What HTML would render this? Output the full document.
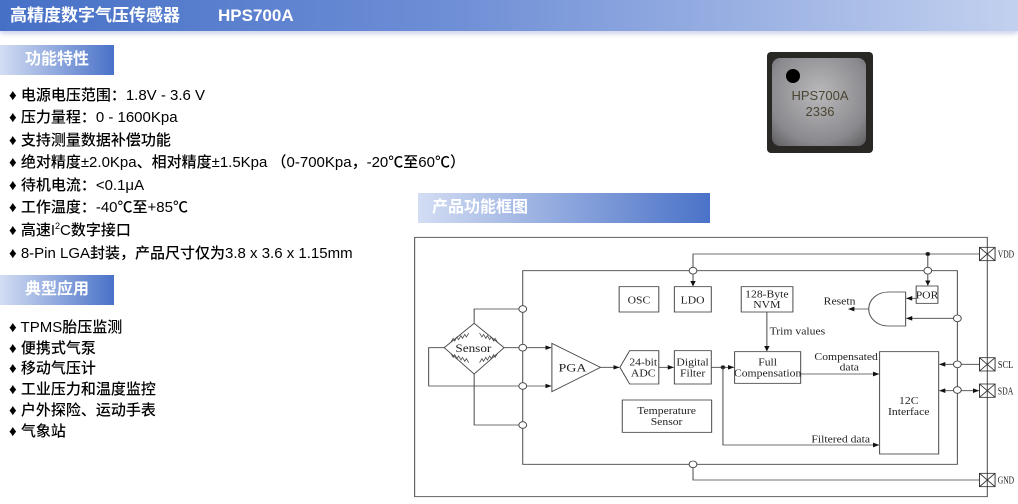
<!DOCTYPE html>
<html><head><meta charset="utf-8"><style>
body{margin:0;width:1018px;height:504px;background:#fff;position:relative;overflow:hidden;font-family:"Liberation Sans","Noto Sans CJK SC",sans-serif;}
.hdr{position:absolute;left:0;top:0;width:1018px;height:31px;background:linear-gradient(90deg,#4670c6 0%,#6f8fd6 45%,#c3d1ef 100%);box-shadow:0 3px 4px rgba(120,140,200,.35);}
.hdr span{position:absolute;top:0;line-height:31px;color:#fff;font-weight:bold;font-size:17px;}
.sec{position:absolute;height:30px;background:linear-gradient(90deg,#d3ddf3,#4a72c8);color:#fff;font-weight:bold;font-size:16px;line-height:30px;}
.li{position:absolute;left:9px;font-size:15px;color:#000;white-space:nowrap;line-height:20px;font-weight:500;}
sup{font-size:9px;position:relative;top:-6px;vertical-align:baseline;}
</style></head><body>
<div class="hdr"><span style="left:10px">高精度数字气压传感器</span><span style="left:218px">HPS700A</span></div>
<div class="sec" style="left:0;top:45px;width:114px;"><span style="margin-left:25px">功能特性</span></div>
<div class="li" style="top:86px">♦ 电源电压范围：1.8V - 3.6 V</div>
<div class="li" style="top:108px">♦ 压力量程：0 - 1600Kpa</div>
<div class="li" style="top:131px">♦ 支持测量数据补偿功能</div>
<div class="li" style="top:153px">♦ 绝对精度±2.0Kpa、相对精度±1.5Kpa （0-700Kpa，-20℃至60℃）</div>
<div class="li" style="top:176px">♦ 待机电流：&lt;0.1μA</div>
<div class="li" style="top:198px">♦ 工作温度：-40℃至+85℃</div>
<div class="li" style="top:221px">♦ 高速I<sup>2</sup>C数字接口</div>
<div class="li" style="top:244px">♦ 8-Pin LGA封装，产品尺寸仅为3.8 x 3.6 x 1.15mm</div>
<div class="sec" style="left:0;top:275px;width:114px;"><span style="margin-left:25px">典型应用</span></div>
<div class="li" style="top:318px">♦ TPMS胎压监测</div>
<div class="li" style="top:339px">♦ 便携式气泵</div>
<div class="li" style="top:359px">♦ 移动气压计</div>
<div class="li" style="top:380px">♦ 工业压力和温度监控</div>
<div class="li" style="top:401px">♦ 户外探险、运动手表</div>
<div class="li" style="top:422px">♦ 气象站</div>
<div class="sec" style="left:418px;top:193px;width:292px;"><span style="margin-left:14px">产品功能框图</span></div>
<div style="position:absolute;left:767px;top:52px;width:106px;height:101px;background:#2a2824;border-radius:4px;"></div>
<div style="position:absolute;left:772px;top:58px;width:94px;height:88px;background:radial-gradient(circle at 50% 40%,#b9b9bc,#8a8a8e 70%,#5b5b5e);border-radius:8px;"></div>
<div style="position:absolute;left:786px;top:69px;width:14px;height:14px;background:#000;border-radius:50%;"></div>
<div style="position:absolute;left:790px;top:88px;font-size:13px;color:#4a4530;line-height:16px;text-align:center;width:60px;">HPS700A<br>2336</div>
<svg style="position:absolute;left:410px;top:230px" width="608" height="274" viewBox="0 0 1564 822" preserveAspectRatio="none" font-family="'Liberation Serif',serif" font-size="30" fill="none" stroke="#444" stroke-width="2.5">
<defs><marker id="b" markerWidth="16" markerHeight="14" refX="15" refY="7" orient="auto-start-reverse" markerUnits="userSpaceOnUse"><path d="M0,0 L16,7 L0,14z" fill="#111" stroke="none"/></marker></defs>
<rect x="12" y="22" width="1473" height="778"/>
<path d="M290,122 H1408 V703 H290 Z"/>
<path d="M728,122 V72 H1465"/><path d="M728,122 V168" marker-end="url(#b)"/>
<path d="M1332,72 V166" marker-end="url(#b)"/>
<circle cx="1332" cy="72" r="5" fill="#111"/>
<path d="M728,703 V750 H1465"/>
<path d="M1465,403 H1362" marker-end="url(#b)"/>
<path d="M1362,482 H1463" marker-start="url(#b)" marker-end="url(#b)"/>
<g stroke="#333"><rect x="1465" y="52" width="40" height="40"/><path d="M1465,52 L1505,92 M1505,52 L1465,92"/>
<rect x="1465" y="383" width="40" height="40"/><path d="M1465,383 L1505,423 M1505,383 L1465,423"/>
<rect x="1465" y="462" width="40" height="40"/><path d="M1465,462 L1505,502 M1505,462 L1465,502"/>
<rect x="1465" y="730" width="40" height="40"/><path d="M1465,730 L1505,770 M1505,730 L1465,770"/></g>
<g fill="#222" stroke="none" font-size="30"><text x="1512" y="82" textLength="42" lengthAdjust="spacingAndGlyphs">VDD</text><text x="1512" y="414" textLength="40" lengthAdjust="spacingAndGlyphs">SCL</text><text x="1512" y="493" textLength="40" lengthAdjust="spacingAndGlyphs">SDA</text><text x="1512" y="761" textLength="42" lengthAdjust="spacingAndGlyphs">GND</text></g>
<rect x="538" y="170" width="102" height="76"/><rect x="680" y="170" width="95" height="76"/>
<rect x="852" y="170" width="133" height="76"/><rect x="1302" y="168" width="56" height="52"/>
<rect x="680" y="362" width="95" height="100"/><rect x="835" y="365" width="170" height="95"/>
<rect x="1208" y="365" width="152" height="307"/><rect x="546" y="510" width="230" height="97"/>
<path d="M540,412 L565,362 H640 V462 H565 Z"/>
<path d="M365,340 L365,485 L490,412 Z"/>
<path d="M1275,186 V288 H1230 A50,51 0 0 1 1230,186 Z"/>
<path d="M1180,237 H1128" marker-end="url(#b)"/>
<path d="M1302,205 H1277" marker-end="url(#b)"/>
<path d="M1398,265 H1277" marker-end="url(#b)"/>
<path d="M165,280 L242,353 L165,432 L88,353 Z"/>
<path d="M165,280 V237 H290 M242,353 H290 M165,432 V585 H290 M88,353 H48 V468 H290"/>
<g stroke-width="2"><path d="M105,337 l6,-12 l4,8 l6,-12 l4,8 l6,-12 l4,8 l6,-12 l4,8 l6,-12"/><path d="M225,337 l-6,-12 l-4,8 l-6,-12 l-4,8 l-6,-12 l-4,8 l-6,-12 l-4,8 l-6,-12"/>
<path d="M105,370 l6,12 l4,-8 l6,12 l4,-8 l6,12 l4,-8 l6,12 l4,-8 l6,12"/><path d="M225,370 l-6,12 l-4,-8 l-6,12 l-4,-8 l-6,12 l-4,-8 l-6,12 l-4,-8 l-6,12"/></g>
<path d="M300,353 H363" marker-end="url(#b)"/><path d="M300,468 H363" marker-end="url(#b)"/>
<path d="M490,412 H538" marker-end="url(#b)"/><path d="M640,412 H678" marker-end="url(#b)"/>
<path d="M775,412 H833" marker-end="url(#b)"/>
<circle cx="805" cy="412" r="5" fill="#111"/>
<path d="M805,412 V645 H1206" marker-end="url(#b)"/>
<path d="M1005,432 H1206" marker-end="url(#b)"/>
<path d="M918,246 V363" marker-end="url(#b)"/>
<g fill="#fff"><circle cx="728" cy="122" r="10"/><circle cx="1332" cy="122" r="10"/><circle cx="290" cy="237" r="10"/><circle cx="290" cy="353" r="10"/><circle cx="290" cy="468" r="10"/><circle cx="290" cy="585" r="10"/><circle cx="728" cy="703" r="10"/><circle cx="1408" cy="265" r="10"/><circle cx="1408" cy="403" r="10"/><circle cx="1408" cy="480" r="10"/></g>
<g fill="#222" stroke="none" text-anchor="middle">
<text x="589" y="220">OSC</text><text x="727" y="220">LDO</text>
<text x="918" y="203">128-Byte</text><text x="918" y="234">NVM</text>
<text x="1330" y="205">POR</text><text x="1105" y="224">Resetn</text>
<text x="163" y="366" font-size="34">Sensor</text><text x="418" y="424" font-size="36">PGA</text>
<text x="600" y="407">24-bit</text><text x="600" y="440">ADC</text>
<text x="727" y="407">Digital</text><text x="727" y="440">Filter</text>
<text x="920" y="407">Full</text><text x="920" y="440">Compensation</text>
<text x="925" y="314" text-anchor="start">Trim values</text>
<text x="1122" y="390">Compensated</text><text x="1130" y="422">data</text>
<text x="1283" y="522">12C</text><text x="1283" y="555">Interface</text>
<text x="660" y="552">Temperature</text><text x="660" y="585">Sensor</text>
<text x="1108" y="638">Filtered data</text>
</g>
</svg>
</body></html>
